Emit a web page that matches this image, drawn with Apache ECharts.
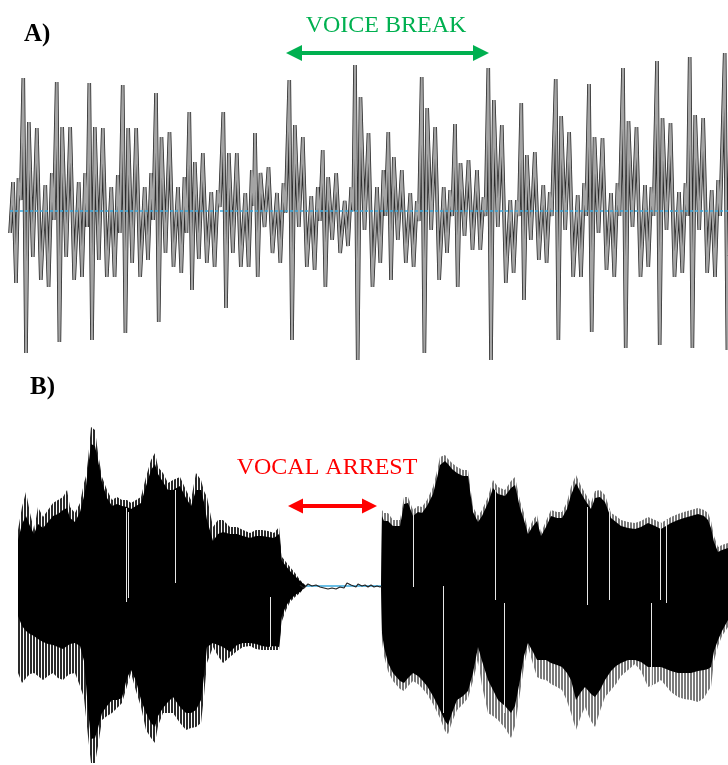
<!DOCTYPE html>
<html><head><meta charset="utf-8">
<script src="https://cdn.jsdelivr.net/npm/echarts@6/dist/echarts.min.js"></script>
<style>html,body{margin:0;padding:0;background:#fff}#c{width:728px;height:765px}</style>
</head><body><div id="c"></div>
<script>
// ---------- Panel A: voice break waveform (time in samples, amplitude in arbitrary units) ----------
const aLeadT = [10, 13, 16, 18.5, 20.7];
const aLeadV = [-22, 29, -72, 33, 11];
const aPeakT = [23.3, 56.7, 89.3, 122.7, 156, 189.3, 223.3, 255, 289.3, 322.7, 355, 388.3, 421.7, 455, 488.3, 521.3, 555.7, 589, 623, 657, 689.7, 724.7];
const aOffsets = [0, 2.7, 5.5, 9.5, 13.5, 17.5, 22, 25.3, 28.5, 30.5];
const aCycles = [
  [133, -142, 89, -46, 83, -69, 26, -76, 38, -9],
  [129, -131, 84, -46, 84, -69, 29, -66, 38, -16],
  [128, -129, 84, -49, 83, -66, 24, -66, 36, -22],
  [126, -122, 83, -52, 83, -66, 24, -49, 38, -9],
  [118, -111, 74, -42, 79, -56, 24, -62, 34, -22],
  [99, -79, 49, -48, 58, -52, 19, -56, 21, 4],
  [99, -97, 58, -42, 58, -56, 18, -56, 41, 5],
  [78, -66, 38, -16, 44, -42, 18, -52, 28, -2],
  [131, -129, 86, -16, 74, -56, 15, -59, 24, -10],
  [61, -76, 34, -29, 38, -42, 10, -35, 24, 0],
  [146, -149, 114, -19, 78, -76, 24, -52, 41, -5],
  [79, -69, 54, -29, 41, -52, 18, -56, 10, -10],
  [134, -142, 103, -19, 84, -69, 24, -42, 21, -5],
  [87, -76, 48, -25, 51, -39, 41, -39, 14, -5],
  [143, -149, 111, -16, 86, -72, 11, -62, 11, -5],
  [108, -89, 56, -29, 59, -49, 26, -52, 19, -5],
  [132, -129, 95, -19, 79, -66, 16, -66, 28, -5],
  [127, -121, 74, -22, 73, -59, 18, -66, 28, -5],
  [143, -137, 90, -16, 84, -66, 26, -56, 24, -5],
  [150, -134, 93, -19, 88, -66, 19, -62, 28, -5],
  [154, -137, 96, -19, 93, -62, 21, -66, 31, -5],
  [158, -139, 95, -19, 90, -64, 20, -60, 28, -5]
];

// ---------- Panel B: vocal arrest envelope ----------
const bTime = [18,22,26,30,34,38,43,48,53,58,63,67,70,75,80,84,86,88,91,95,98,102,107,112,117,122,127,131,136,141,146,151,155,158,163,168,173,180,186,191,196,201,204,207,213,218,223,230,237,243,250,256,262,268,274,279,282,286,290,295,300,306,381,382,384,388,393,400,404,408,413,418,422,427,433,437,440,445,448,452,457,463,468,473,478,482,488,493,498,505,511,515,520,524,528,533,537,541,546,551,557,562,567,571,576,581,585,591,595,600,605,611,616,621,628,635,641,648,655,661,666,671,678,684,691,698,704,708,711,714,718,722,728];
const bUpperOuter = [56,79,94,73,56,79,69,76,83,86,89,96,79,73,83,103,110,126,159,156,133,109,96,86,89,86,86,83,86,89,109,126,133,119,113,103,106,109,96,86,113,106,95,89,59,66,66,59,59,56,53,56,56,55,53,59,29,24,19,13,6,0,0,76,73,73,66,66,89,89,76,80,79,86,99,115,129,131,127,123,119,116,116,79,70,76,89,106,99,96,105,109,85,73,56,66,71,53,65,76,74,74,84,99,111,100,93,83,95,96,91,73,70,66,64,63,65,69,66,63,66,69,72,74,76,78,76,73,65,50,39,41,43];
const bUpperInner = [46,62,70,60,52,62,58,64,70,72,76,78,68,64,74,90,100,118,142,140,126,104,88,80,82,80,79,77,80,83,100,116,122,112,104,96,96,100,88,80,96,96,84,66,45,52,54,52,52,50,48,50,50,49,48,52,25,20,15,10,5,0,0,70,65,65,60,60,82,83,70,74,73,80,92,108,121,125,122,117,113,110,110,74,64,70,83,98,92,90,98,101,78,66,52,60,65,50,59,70,68,68,77,91,103,93,86,77,88,89,84,68,64,60,58,57,59,63,60,57,60,63,66,68,70,72,70,66,58,44,34,36,38];
const bLowerInner = [-30,-40,-45,-48,-50,-53,-56,-58,-59,-61,-63,-60,-58,-57,-60,-75,-98,-124,-153,-152,-142,-127,-120,-114,-114,-112,-92,-84,-95,-114,-127,-137,-141,-130,-122,-116,-111,-121,-127,-127,-124,-114,-90,-61,-57,-59,-61,-66,-59,-57,-57,-58,-60,-61,-60,-61,-30,-20,-14,-9,-6,0,0,-47,-61,-77,-87,-95,-97,-92,-87,-90,-94,-100,-110,-118,-124,-135,-139,-127,-114,-110,-105,-87,-61,-75,-94,-104,-114,-120,-127,-120,-94,-70,-57,-66,-74,-74,-74,-77,-79,-81,-87,-94,-114,-106,-101,-108,-111,-104,-94,-85,-80,-77,-74,-74,-76,-81,-81,-81,-83,-85,-87,-87,-87,-85,-84,-83,-81,-65,-54,-45,-34];
const bLowerOuter = [-87,-97,-92,-88,-87,-90,-94,-90,-87,-92,-94,-90,-88,-87,-100,-112,-114,-150,-177,-177,-160,-134,-130,-127,-122,-117,-100,-87,-105,-121,-144,-152,-157,-140,-127,-127,-127,-137,-144,-142,-141,-137,-110,-77,-61,-70,-77,-71,-65,-61,-60,-63,-64,-64,-64,-64,-35,-24,-16,-11,-7,0,0,-55,-70,-85,-95,-103,-105,-100,-95,-98,-102,-108,-118,-126,-132,-145,-148,-136,-124,-118,-112,-95,-74,-100,-127,-130,-134,-142,-152,-140,-107,-80,-61,-78,-91,-93,-94,-98,-101,-104,-115,-127,-144,-130,-121,-135,-141,-125,-111,-104,-98,-90,-84,-78,-85,-101,-98,-94,-100,-106,-111,-113,-114,-116,-112,-105,-101,-75,-60,-50,-41];
const bNoiseT = [300,304,308,312,316,320,324,328,332,336,340,344,347,349,351,353,356,358,360,362,365,368,371,374,377,380,382];
const bNoiseV = [1,-2,2,0,1,-1,-2,-3,-2,-3,-1,-2,3,4,1,3,-1,2,3,0,1,-1,1,-1,0,-1,0];
// clipped-sample gaps inside the envelope: time, top, bottom
const bGapT = [126, 127.7, 175, 270, 413.3, 443.3, 494.7, 504, 587.3, 609, 651.3, 659.7, 666.3];
const bGapTop = [78, 74, 96, -11, 73, 0, 96, -17, 79, 76, -17, 63, 66];
const bGapBottom = [-16, -12, 3, -61, -1, -127, -14, -127, -19, -14, -101, -14, -17];

const labelA = 'A)', labelB = 'B)';
const noteA = 'VOICE BREAK', noteB = 'VOCAL ARREST';

// ---------- build series data ----------
const aData = [];
aLeadT.forEach((t, i) => aData.push([t, aLeadV[i]]));
aPeakT.forEach((t0, c) => aOffsets.forEach((o, k) => aData.push([+(t0 + o).toFixed(1), aCycles[c][k]])));
const zip = (xs, ys) => xs.map((x, i) => [x, ys[i]]);
const split = bTime.findIndex(t => t > 306);

function stripePattern(col) {
  const pc = document.createElement('canvas'); pc.width = 3; pc.height = 4;
  const g = pc.getContext('2d');
  g.fillStyle = '#ffffff'; g.fillRect(0, 0, 3, 4);
  g.fillStyle = col; g.fillRect(0, 0, 2, 4);
  return { image: pc, repeat: 'repeat' };
}
const stripeDark = stripePattern('#2a2a2a');
const stripeGray = stripePattern('#7a7a7a');

const chart = echarts.init(document.getElementById('c'), null, { renderer: 'canvas' });
const serif = '"Liberation Serif", "Times New Roman", serif';
const green = '#00b050', red = '#ff0000';

function area(t, v, fill) {
  return { type: 'line', xAxisIndex: 1, yAxisIndex: 1, data: zip(t, v), showSymbol: false, silent: true,
    lineStyle: { width: 0 }, areaStyle: { color: fill, opacity: 1 } };
}

chart.setOption({
  animation: false,
  backgroundColor: '#ffffff',
  grid: [
    { left: 0, right: 0, top: 51, height: 320 },
    { left: 0, right: 0, top: 407, height: 358 }
  ],
  xAxis: [
    { type: 'value', gridIndex: 0, min: 0, max: 728, show: false },
    { type: 'value', gridIndex: 1, min: 0, max: 728, show: false }
  ],
  yAxis: [
    { type: 'value', gridIndex: 0, min: -160, max: 160, show: false },
    { type: 'value', gridIndex: 1, min: -179, max: 179, show: false }
  ],
  series: [
    { type: 'line', xAxisIndex: 0, yAxisIndex: 0, data: aData, showSymbol: false, silent: true,
      lineStyle: { color: '#2b2b2b', width: 3.6 }, z: 2 },
    { type: 'line', xAxisIndex: 0, yAxisIndex: 0, data: aData, showSymbol: false, silent: true,
      lineStyle: { color: '#a4a4a4', width: 2.0 }, z: 3 },
    { type: 'line', xAxisIndex: 0, yAxisIndex: 0, data: [[aLeadT[0], 0], [728, 0]], showSymbol: false, silent: true,
      lineStyle: { color: '#38a8dc', width: 1.6, type: [3, 2] }, z: 4 },

    { type: 'line', xAxisIndex: 1, yAxisIndex: 1, data: [[bTime[0], 0], [728, 0]], showSymbol: false, silent: true,
      lineStyle: { color: '#38a8dc', width: 1.6 }, z: 1 },
    Object.assign(area(bTime.slice(0, split), bUpperOuter.slice(0, split), stripeDark), { z: 2 }),
    Object.assign(area(bTime.slice(0, split), bLowerOuter.slice(0, split), stripeDark), { z: 2 }),
    Object.assign(area(bTime.slice(split), bUpperOuter.slice(split), stripeGray), { z: 2 }),
    Object.assign(area(bTime.slice(split), bLowerOuter.slice(split), stripeGray), { z: 2 }),
    Object.assign(area(bTime, bUpperInner, '#000'), { z: 3 }),
    Object.assign(area(bTime, bLowerInner, '#000'), { z: 3 }),
    { type: 'line', xAxisIndex: 1, yAxisIndex: 1, data: zip(bNoiseT, bNoiseV), showSymbol: false, silent: true,
      lineStyle: { color: '#222', width: 1.2 }, z: 4 },
    { type: 'custom', xAxisIndex: 1, yAxisIndex: 1, silent: true, z: 5,
      data: bGapT.map((t, i) => [t, bGapTop[i], bGapBottom[i]]),
      renderItem: function (params, api) {
        const p1 = api.coord([api.value(0), api.value(1)]);
        const p2 = api.coord([api.value(0), api.value(2)]);
        return { type: 'line', shape: { x1: Math.round(p1[0]) + 0.5, y1: p1[1], x2: Math.round(p2[0]) + 0.5, y2: p2[1] },
          style: { stroke: '#e6e6e6', lineWidth: 1 } };
      } }
  ],
  graphic: [
    { type: 'text', left: 24, top: 22, style: { text: labelA, font: 'bold 25px ' + serif, fill: '#000' } },
    { type: 'text', left: 30, top: 375, style: { text: labelB, font: 'bold 25px ' + serif, fill: '#000' } },
    { type: 'text', x: 386, y: 14, style: { text: noteA, font: '24px ' + serif, fill: green, align: 'center', verticalAlign: 'top' } },
    { type: 'text', x: 327, y: 456, style: { text: noteB, font: '24px ' + serif, fill: red, align: 'center', verticalAlign: 'top' } },
    { type: 'line', shape: { x1: 298, y1: 53, x2: 477, y2: 53 }, style: { stroke: green, lineWidth: 4 } },
    { type: 'polygon', shape: { points: [[286, 53], [302, 45], [302, 61]] }, style: { fill: green } },
    { type: 'polygon', shape: { points: [[489, 53], [473, 45], [473, 61]] }, style: { fill: green } },
    { type: 'line', shape: { x1: 300, y1: 506, x2: 365, y2: 506 }, style: { stroke: red, lineWidth: 4 } },
    { type: 'polygon', shape: { points: [[288, 506], [303, 498.5], [303, 513.5]] }, style: { fill: red } },
    { type: 'polygon', shape: { points: [[377, 506], [362, 498.5], [362, 513.5]] }, style: { fill: red } }
  ]
});
</script>
</body></html>
